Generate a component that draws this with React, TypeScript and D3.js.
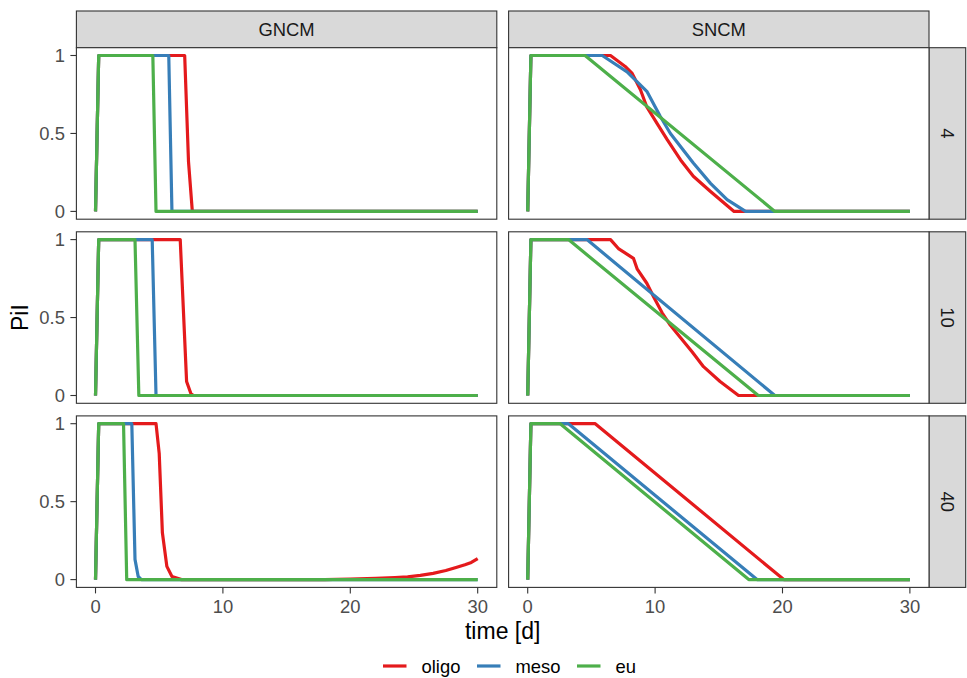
import React from 'react';
import { scaleLinear, line } from 'd3';

// time [d] vs PiI, one array per panel / series as [t, value] pairs
const methods = ['GNCM', 'SNCM'];
const levels = ['4', '10', '40'];
const seriesNames = ['oligo', 'meso', 'eu'];
const xTicks = [0, 10, 20, 30];
const yTicks = [0, 0.5, 1];
const yTickLabels = ['0', '0.5', '1'];

const gncm4Oligo = [[0, 0], [0.25, 1], [7, 1], [7.3, 0.32], [7.6, 0], [30, 0]];
const gncm4Meso = [[0, 0], [0.25, 1], [5.75, 1], [6, 0], [30, 0]];
const gncm4Eu = [[0, 0], [0.25, 1], [4.5, 1], [4.75, 0], [30, 0]];

const gncm10Oligo = [[0, 0], [0.25, 1], [6.65, 1], [7.15, 0.09], [7.5, 0.01], [7.7, 0], [30, 0]];
const gncm10Meso = [[0, 0], [0.25, 1], [4.45, 1], [4.75, 0], [30, 0]];
const gncm10Eu = [[0, 0], [0.25, 1], [3.1, 1], [3.4, 0], [30, 0]];

const gncm40Oligo = [[0, 0], [0.25, 1], [4.75, 1], [5.0, 0.81], [5.25, 0.3], [5.6, 0.085], [6.0, 0.02], [6.75, 0],
	[18, 0], [20, 0.004], [22, 0.008], [23.5, 0.013], [24.5, 0.018], [25.5, 0.027], [26.5, 0.04], [27.5, 0.058],
	[28.3, 0.078], [29, 0.095], [29.5, 0.11], [30, 0.135]];
const gncm40Meso = [[0, 0], [0.25, 1], [2.85, 1], [3.1, 0.13], [3.35, 0.02], [3.6, 0], [30, 0]];
const gncm40Eu = [[0, 0], [0.25, 1], [2.2, 1], [2.45, 0], [30, 0]];

const sncm4Oligo = [[0, 0], [0.25, 1], [6.5, 1], [7.65, 0.93], [8.2, 0.885], [8.85, 0.78], [9.35, 0.67], [10.15, 0.565],
	[10.95, 0.46], [12, 0.33], [13, 0.225], [14.35, 0.128], [16.2, 0], [30, 0]];
const sncm4Meso = [[0, 0], [0.25, 1], [5.85, 1], [7.8, 0.895], [9.35, 0.77], [10.4, 0.61], [11.2, 0.5], [13, 0.31],
	[14.35, 0.18], [15.65, 0.075], [17.1, 0], [30, 0]];
const sncm4Eu = [[0, 0], [0.25, 1], [4.5, 1], [19.4, 0], [30, 0]];

const sncm10Oligo = [[0, 0], [0.25, 1], [6.5, 1], [7.15, 0.94], [8.3, 0.88], [8.6, 0.81], [9.35, 0.72], [9.9, 0.63],
	[10.55, 0.53], [11.2, 0.45], [12, 0.37], [12.9, 0.28], [13.8, 0.185], [15.1, 0.09], [16.55, 0], [30, 0]];
const sncm10Meso = [[0, 0], [0.25, 1], [4.65, 1], [19.4, 0], [30, 0]];
const sncm10Eu = [[0, 0], [0.25, 1], [3.2, 1], [18.1, 0], [30, 0]];

const sncm40Oligo = [[0, 0], [0.25, 1], [5.3, 1], [20.1, 0], [30, 0]];
const sncm40Meso = [[0, 0], [0.25, 1], [3.2, 1], [18, 0], [30, 0]];
const sncm40Eu = [[0, 0], [0.25, 1], [2.55, 1], [17.35, 0], [30, 0]];

const panelData = {
	'GNCM-4': [gncm4Oligo, gncm4Meso, gncm4Eu],
	'GNCM-10': [gncm10Oligo, gncm10Meso, gncm10Eu],
	'GNCM-40': [gncm40Oligo, gncm40Meso, gncm40Eu],
	'SNCM-4': [sncm4Oligo, sncm4Meso, sncm4Eu],
	'SNCM-10': [sncm10Oligo, sncm10Meso, sncm10Eu],
	'SNCM-40': [sncm40Oligo, sncm40Meso, sncm40Eu]
};

const colors = ['#E41A1C', '#377EB8', '#4DAF4A'];

const FONT = 'Arial, "Liberation Sans", sans-serif';

const App = () => {
	const width = 967;
	const height = 678;

	const panelW = 420.4;
	const panelH = 171.5;
	const colX = [76.4, 508.6];
	const rowY = [47.7, 231.8, 415.9];
	const stripSize = 36.7;
	const tickLen = 6;
	const small = 18.4;

	const lineFn = (xs, ys) => line()
		.x((d) => xs(d[0]))
		.y((d) => ys(d[1]));

	return (
		<div style={{ position: 'absolute', left: 0, top: 0 }}>
			<svg width={width} height={height} style={{ display: 'block', background: '#fff' }} fontFamily={FONT}>
				<defs>
					{methods.map((m, c) => levels.map((lv, r) => (
						<clipPath id={`clip-${c}-${r}`} key={`clip-${c}-${r}`}>
							<rect x={colX[c]} y={rowY[r]} width={panelW} height={panelH} />
						</clipPath>
					)))}
				</defs>

				{/* top strips */}
				{methods.map((m, c) => (
					<g key={'strip-' + m}>
						<rect x={colX[c]} y={rowY[0] - stripSize} width={panelW} height={stripSize}
						      fill="#d9d9d9" stroke="#333333" strokeWidth={1.1} />
						<text x={colX[c] + panelW / 2} y={rowY[0] - stripSize / 2} dy="0.36em"
						      textAnchor="middle" fontSize={small} fill="#1a1a1a">{m}</text>
					</g>
				))}

				{/* right strips */}
				{levels.map((lv, r) => {
					const cx = colX[1] + panelW + stripSize / 2;
					const cy = rowY[r] + panelH / 2;
					return (
						<g key={'rstrip-' + lv}>
							<rect x={colX[1] + panelW} y={rowY[r]} width={stripSize} height={panelH}
							      fill="#d9d9d9" stroke="#333333" strokeWidth={1.1} />
							<text transform={`translate(${cx},${cy}) rotate(90)`} dy="0.36em"
							      textAnchor="middle" fontSize={small} fill="#1a1a1a">{lv}</text>
						</g>
					);
				})}

				{methods.map((m, c) => levels.map((lv, r) => {
					const xs = scaleLinear().domain([-1.5, 31.5]).range([colX[c], colX[c] + panelW]);
					const ys = scaleLinear().domain([-0.05, 1.05]).range([rowY[r] + panelH, rowY[r]]);
					const series = panelData[m + '-' + lv];
					return (
						<g key={m + lv}>
							<rect x={colX[c]} y={rowY[r]} width={panelW} height={panelH} fill="#fff" />
							<g clipPath={`url(#clip-${c}-${r})`}>
								{series.map((s, i) => (
									<path key={seriesNames[i]} d={lineFn(xs, ys)(s)} fill="none"
									      stroke={colors[i]} strokeWidth={3.2} strokeLinejoin="round" />
								))}
							</g>
							<rect x={colX[c]} y={rowY[r]} width={panelW} height={panelH}
							      fill="none" stroke="#333333" strokeWidth={1.1} />
							{c === 0 && yTicks.map((t, i) => (
								<g key={'yt' + t}>
									<line x1={colX[c] - tickLen} x2={colX[c]} y1={ys(t)} y2={ys(t)}
									      stroke="#333333" strokeWidth={1.1} />
									<text x={colX[c] - tickLen - 5.5} y={ys(t)} dy="0.36em" textAnchor="end"
									      fontSize={small} fill="#4d4d4d">{yTickLabels[i]}</text>
								</g>
							))}
							{r === levels.length - 1 && xTicks.map((t) => (
								<g key={'xt' + t}>
									<line x1={xs(t)} x2={xs(t)} y1={rowY[r] + panelH} y2={rowY[r] + panelH + tickLen}
									      stroke="#333333" strokeWidth={1.1} />
									<text x={xs(t)} y={rowY[r] + panelH + tickLen + 20} textAnchor="middle"
									      fontSize={small} fill="#4d4d4d">{t}</text>
								</g>
							))}
						</g>
					);
				}))}

				{/* axis titles */}
				<text x={(colX[0] + colX[1] + panelW) / 2} y={639} textAnchor="middle" fontSize={23} fill="#000">time [d]</text>
				<text transform={`translate(20,${rowY[0] + (rowY[2] + panelH - rowY[0]) / 2}) rotate(-90)`} dy="0.36em"
				      textAnchor="middle" fontSize={23} fill="#000">PiI</text>

				{/* legend */}
				{seriesNames.map((name, i) => {
					const keyX = [383, 477, 577][i];
					return (
						<g key={'leg' + name}>
							<line x1={keyX} x2={keyX + 23.5} y1={666} y2={666} stroke={colors[i]} strokeWidth={3.2} />
							<text x={keyX + 38.5} y={666} dy="0.36em" fontSize={small} fill="#000">{name}</text>
						</g>
					);
				})}
			</svg>
		</div>
	);
};

export default App;
